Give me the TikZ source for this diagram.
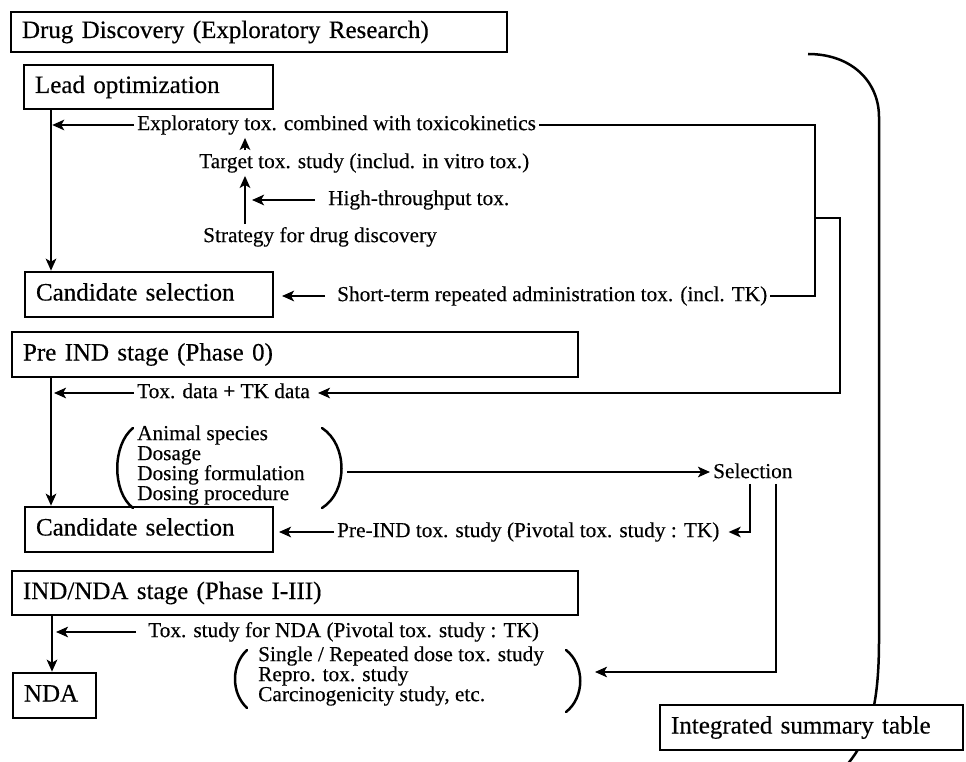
\documentclass[tikz,border=0pt]{standalone}
\usepackage{fontspec}
\setmainfont{Liberation Serif}[FakeBold=0.35]
\usetikzlibrary{arrows.meta}
\newcommand\mybigfont{\fontsize{25}{28}\selectfont}
\newcommand\mysmallfont{\fontsize{21.3}{20}\selectfont}
\begin{document}
\begin{tikzpicture}[x=1pt,y=-1pt,
  bx/.style={draw, line width=2.6pt, anchor=north west, align=left, inner xsep=11pt, inner ysep=0pt, outer sep=0pt, font=\mybigfont, text height=17.5pt, text depth=5.5pt},
  txt/.style={anchor=west, inner sep=3pt, font=\mysmallfont, text height=14.8pt, text depth=4.6pt},
  grp/.style={anchor=west, inner sep=4pt, font=\mysmallfont, align=left},
  ln/.style={line width=2.3pt},
  tip/.style={-{Stealth[length=12pt,width=10.5pt,inset=3pt]}},
  arr/.style={ln, tip},
  thinln/.style={line width=2pt},
  thinarr/.style={thinln, tip},
  paren/.style={line width=2.5pt, line cap=round},
]
\useasboundingbox (0,0) rectangle (966,762);

% stage boxes
\node[bx, minimum height=40pt, text width=474pt] (dd) at (11,12) {Drug Discovery (Exploratory Research)};
\node[bx, minimum height=44pt, text width=227pt] (lead) at (24,65) {Lead optimization};
\node[bx, minimum height=45pt, text width=226pt] (cand1) at (25,272) {Candidate selection};
\node[bx, minimum height=45pt, text width=544pt] (pre) at (12,332) {Pre IND stage (Phase 0)};
\node[bx, minimum height=45pt, text width=226pt] (cand2) at (25,507) {Candidate selection};
\node[bx, minimum height=44pt, text width=544pt] (ind) at (12,571) {IND/NDA stage (Phase I-III)};
\node[bx, minimum height=45pt, text width=61pt] (nda) at (13,673) {NDA};

% texts
\node[txt] (expl) at (134,125) {Exploratory tox. combined with toxicokinetics};
\node[txt] (target) at (196,163) {Target tox. study (includ. in vitro tox.)};
\node[txt] (htp) at (325,200) {High-throughput tox.};
\node[txt] (strat) at (200,237) {Strategy for drug discovery};
\node[txt] (short) at (334,296) {Short-term repeated administration tox. (incl. TK)};
\node[txt] (toxd) at (134,393) {Tox. data + TK data};
\node[grp] (g1) at (133,465) {Animal species\\Dosage\\Dosing formulation\\Dosing procedure};
\node[txt] (sel) at (710,473) {Selection};
\node[txt] (preind) at (334,532) {Pre-IND tox. study (Pivotal tox. study : TK)};
\node[txt] (ndatox) at (145,632) {Tox. study for NDA (Pivotal tox. study : TK)};
\node[grp] (g2) at (254,676) {Single / Repeated dose tox. study\\Repro. tox. study\\Carcinogenicity study, etc.};

% helper coordinates
\coordinate (la) at (51,0);
\coordinate (ia) at (52,0);
\coordinate (sx) at (245,0);
\coordinate (jx) at (815,125);
\coordinate (j1) at (815,218);
\coordinate (bxx) at (840,0);
\coordinate (rp1) at (347,472);
\coordinate (rp2) at (595,672);
\coordinate (s1) at ([xshift=-2.6pt,yshift=2pt]sel.south);
\coordinate (s2) at ([xshift=23.4pt,yshift=2pt]sel.south);

% parentheses
\draw[paren] (133,428) .. controls (112,445) and (112,492) .. (133,508);
\draw[paren] (322,428) .. controls (348,445) and (348,492) .. (322,508);
\draw[paren] (247,650) .. controls (231,665) and (231,693) .. (247,708);
\draw[paren] (566,650) .. controls (585,665) and (585,697) .. (566,712);

% drug discovery connectors
\draw[arr, shorten >=1.3pt] (lead.south -| la) -- (cand1.north -| la);
\draw[arr, shorten >=1.2pt] (expl.west) -- (expl.west -| la);
\draw[arr] (target.north -| sx) -- (expl.south -| sx);
\draw[arr] (strat.north -| sx) -- (target.south -| sx);
\draw[arr, shorten <=10pt, shorten >=7pt] (htp.west) -- (htp.west -| sx);
\draw[arr, shorten <=9pt, shorten >=9pt] (short.west) -- (short.west -| cand1.east);
\draw[thinln] (expl.east) -- (jx) |- (short.east);
\draw[thinarr, shorten >=5pt] (j1) -- (j1 -| bxx) |- (toxd.east);

% pre IND connectors
\draw[arr, shorten >=1.3pt] (pre.south -| la) -- (cand2.north -| la);
\draw[arr, shorten >=3pt] (toxd.west) -- (toxd.west -| la);
\draw[arr] (rp1) -- (rp1 -| sel.west);
\draw[thinarr, shorten >=6pt] (s1) |- (preind.east);
\draw[arr, shorten >=6pt] (preind.west) -- (preind.west -| cand2.east);

% IND/NDA connectors
\draw[arr, shorten >=1.3pt] (ind.south -| ia) -- (nda.north -| ia);
\draw[arr, shorten <=9pt, shorten >=4pt] (ndatox.west) -- (ndatox.west -| ia);
\draw[thinarr] (s2) |- (rp2);

% big bracket and summary table
\draw[line width=2.5pt] (808,54) .. controls (852,54) and (879,82) .. (879,117) -- (879,640) .. controls (879,710) and (868,740) .. (846,766);
\node[bx, fill=white, minimum height=45pt, text width=281pt] (ist) at (660,705) {Integrated summary table};
\end{tikzpicture}
\end{document}
